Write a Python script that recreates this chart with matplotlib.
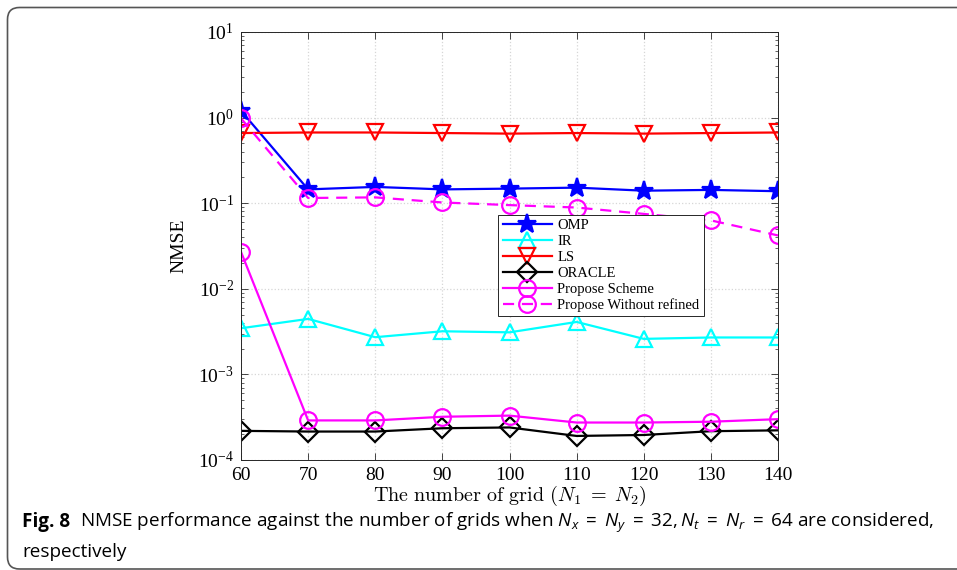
#!/usr/bin/env python3
"""NMSE vs. number of grid points (Fig. 8), redrawn with matplotlib."""

import matplotlib

matplotlib.use("Agg")
import matplotlib.pyplot as plt
from matplotlib.patches import FancyBboxPatch
from matplotlib.transforms import IdentityTransform
from matplotlib.ticker import LogLocator, NullFormatter

plt.rcParams.update(
    {
        "font.family": ["Liberation Serif", "DejaVu Serif"],
        "mathtext.fontset": "stix",
        "mathtext.rm": "Open Sans",
        "mathtext.it": "Open Sans:italic",
        "mathtext.bf": "Open Sans:bold",
        "xtick.direction": "in",
        "ytick.direction": "in",
        "xtick.top": True,
        "ytick.right": True,
    }
)

# =============================================================================
# Data
# =============================================================================

grid_sizes = [60, 70, 80, 90, 100, 110, 120, 130, 140]

nmse_omp = [1.2, 0.145, 0.155, 0.145, 0.148, 0.152, 0.140, 0.143, 0.138]
nmse_ir = [0.00346, 0.00445, 0.00272, 0.00319, 0.0031, 0.0041, 0.0026, 0.0027, 0.0027]
nmse_ls = [0.66, 0.67, 0.67, 0.66, 0.65, 0.66, 0.65, 0.66, 0.67]
nmse_oracle = [0.000219, 0.000215, 0.000215, 0.000235, 0.00024, 0.000191, 0.000196, 0.000217, 0.000222]
nmse_proposed = [0.027, 0.00029, 0.00029, 0.00032, 0.00033, 0.000274, 0.000274, 0.00028, 0.0003]
nmse_unrefined = [0.98, 0.115, 0.117, 0.102, 0.095, 0.089, 0.075, 0.063, 0.042]

series = [
    ("OMP", nmse_omp, "blue", "*", "-"),
    ("IR", nmse_ir, "cyan", "^", "-"),
    ("LS", nmse_ls, "red", "v", "-"),
    ("ORACLE", nmse_oracle, "black", "D", "-"),
    ("Propose Scheme", nmse_proposed, "magenta", "o", "-"),
    ("Propose Without refined", nmse_unrefined, "magenta", "o", "--"),
]

# =============================================================================
# Figure
# =============================================================================

W, H = 957, 570
fig = plt.figure(figsize=(W / 100, H / 100), dpi=100)
ax = fig.add_axes([241 / W, 1 - 460 / H, (778 - 241) / W, (460 - 32) / H])

for label, values, color, marker, ls in series:
    size = 14 if marker == "*" else (10 if marker == "D" else 12)
    face = color if marker == "*" else "none"
    ax.plot(
        grid_sizes, values, color=color, linestyle=ls, linewidth=1.6,
        marker=marker, markersize=size, markerfacecolor=face,
        markeredgecolor=color, markeredgewidth=1.6, label=label,
        dashes=(5, 3.5) if ls == "--" else (None, None),
    )

ax.set_yscale("log")
ax.set_xlim(60, 140)
ax.set_ylim(1e-4, 1e1)
ax.set_xticks(grid_sizes)
ax.yaxis.set_major_locator(LogLocator(base=10, numticks=10))
ax.yaxis.set_minor_locator(LogLocator(base=10, subs=range(2, 10), numticks=20))
ax.yaxis.set_minor_formatter(NullFormatter())
ax.tick_params(which="major", length=5, width=0.6, labelsize=14, pad=5, colors="#262626",
               labelcolor="black")
ax.tick_params(which="minor", length=2.5, width=0.5, colors="#262626")
ax.grid(True, which="major", color="#d6d6d6", linestyle=":", linewidth=0.9)
for sp in ax.spines.values():
    sp.set_linewidth(0.7)
    sp.set_color("#262626")

ax.set_ylabel("NMSE", fontsize=14, labelpad=8)
ax.set_xlabel(r"$\mathrm{The\ number\ of\ grid\ }(N_1\;=\;N_2)$", fontsize=14.5,
              math_fontfamily="cm", labelpad=0)

leg = ax.legend(
    loc="upper left", bbox_to_anchor=(0.479, 0.573), borderaxespad=0,
    fontsize=10.5, handlelength=3.4, handletextpad=0.35, labelspacing=0.18,
    borderpad=0.3, fancybox=False, framealpha=1, edgecolor="#262626",
)
leg.get_frame().set_linewidth(0.7)

# =============================================================================
# Caption and surrounding rounded box
# =============================================================================

box = FancyBboxPatch(
    (7.5, 1.0), 990, H - 8.5, boxstyle="round,pad=0,rounding_size=12",
    transform=IdentityTransform(), facecolor="none", edgecolor="#555555", linewidth=1.2,
)
fig.add_artist(box)

cap_size = 13.6
cap_y1 = 1 - 527 / H
cap_y2 = 1 - 557 / H
fig8 = fig.text(22 / W, cap_y1, "Fig. 8", family="Open Sans", weight="bold",
                fontsize=cap_size, va="baseline")
fig.canvas.draw()
x_end = fig8.get_window_extent().x1
fig.text((x_end + 10) / W, cap_y1,
         r"NMSE performance against the number of grids when "
         r"$N_x\;=\;N_y\;=\;32, N_t\;=\;N_r\;=\;64$ are considered,",
         family="Open Sans", fontsize=cap_size, va="baseline", math_fontfamily="custom")
fig.text(22 / W, cap_y2, "respectively", family="Open Sans", fontsize=cap_size, va="baseline")

fig.savefig("out.png", dpi=100)
